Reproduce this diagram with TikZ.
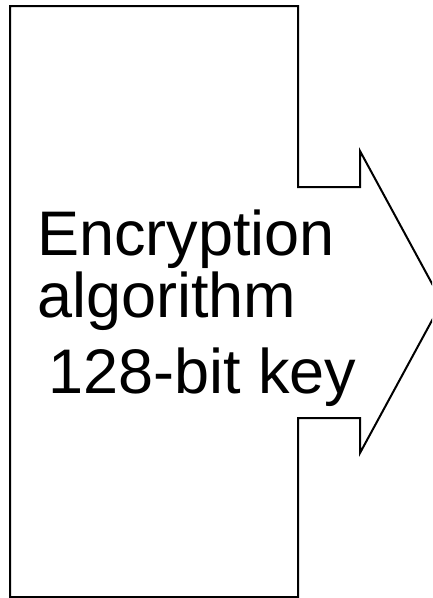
\documentclass[tikz,border=0pt]{standalone}
\usepackage{fontspec}
\setmainfont{Liberation Sans}
\begin{document}
\begin{tikzpicture}[x=1pt,y=-1pt,
  outline/.style={draw=black,line width=2pt,line join=miter},
  label/.style={anchor=base west,inner sep=0pt,font=\fontsize{63}{70}\selectfont}]
\useasboundingbox (0,0) rectangle (432,598);
\clip (0,0) rectangle (432,598);
% block with an arrow coming out of its right side
\draw[outline] (10,6) -- (298,6) -- (298,187) -- (360,187) -- (360,151)
  -- (442,302) -- (360,453) -- (360,418) -- (298,418) -- (298,597)
  -- (10,597) -- cycle;
\node[label] (l1) at (37,255) {Encryption};
\node[label] (l2) at (37,317) {algorithm};
\node[label] (l3) at (48,393) {128-bit key};
\end{tikzpicture}
\end{document}
